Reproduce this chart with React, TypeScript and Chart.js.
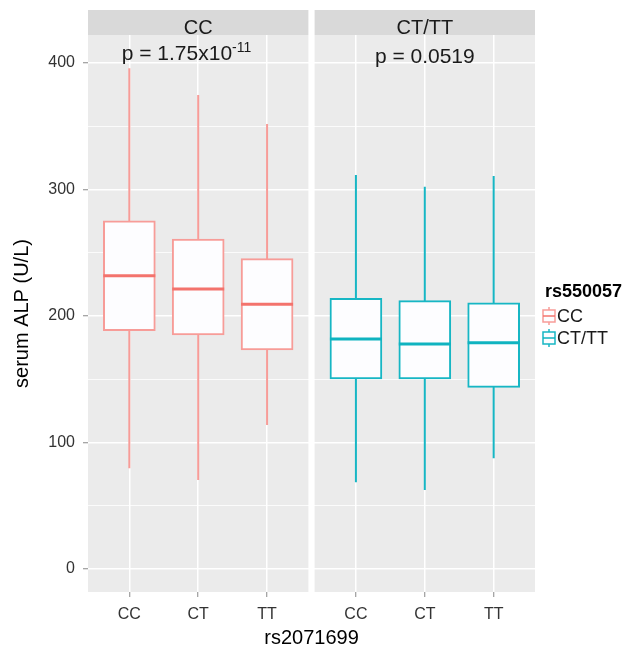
import React, { useEffect, useRef } from 'react';
import { Chart, registerables } from 'chart.js';

Chart.register(...registerables);

const FONT = '"Liberation Sans", Arial, Helvetica, sans-serif';

// facets (rs550057) and x categories (rs2071699)
const panels = ['CC', 'CT/TT'];
const genotypes = ['CC', 'CT', 'TT'];
const yMajorTicks = [0, 100, 200, 300, 400];
const yMinorTicks = [50, 150, 250, 350];

// p-value annotations
const pLabels = ['p = 1.75x10', 'p = 0.0519'];
const pExponents = ['-11', ''];
const pLabelX = [1.83, 2];
const pLabelY = [402.4, 400.2];

// box statistics, rs550057 = CC panel
const ccMin = [79.6, 70.4, 113.8];
const ccQ1 = [188.4, 185.0, 173.1];
const ccMed = [231.9, 221.3, 209.2];
const ccQ3 = [275.3, 260.9, 245.3];
const ccMax = [395.8, 374.7, 351.8];

// box statistics, rs550057 = CT/TT panel
const cttMin = [68.5, 62.5, 87.5];
const cttQ1 = [150.2, 150.2, 143.6];
const cttMed = [181.8, 177.9, 178.9];
const cttQ3 = [214.0, 212.1, 210.5];
const cttMax = [311.5, 302.2, 310.7];

const PANEL_STEP = 3.29; // 3.2 units of panel + gap
const X_MIN = 0.4;
const X_MAX = 3.6 + PANEL_STEP;
const Y_MIN = -18.18;
const Y_MAX = 422.13;

const lineColors = ['#F79C98', '#17B6C4'];
const medianColors = ['#F3736D', '#0FB3C0'];
const boxFill = '#FDFDFF';

const xPos = (p: number, i: number) => p * PANEL_STEP + i + 1;

const stats = [
  { min: ccMin, q1: ccQ1, med: ccMed, q3: ccQ3, max: ccMax },
  { min: cttMin, q1: cttQ1, med: cttMed, q3: cttQ3, max: cttMax },
];

const tickValues: number[] = [];
const tickLabels: string[] = [];
panels.forEach((_, p) =>
  genotypes.forEach((g, i) => {
    tickValues.push(xPos(p, i));
    tickLabels.push(g);
  })
);

const BOX_W = 52;

const facetPlugin = {
  id: 'facets',
  beforeDraw(chart: any) {
    const { ctx, chartArea, scales } = chart;
    const x = scales.x;
    ctx.save();
    ctx.fillStyle = '#FFFFFF';
    ctx.fillRect(0, 0, chart.width, chart.height);
    panels.forEach((name, p) => {
      const l = x.getPixelForValue(X_MIN + p * PANEL_STEP);
      const r = x.getPixelForValue(3.6 + p * PANEL_STEP);
      ctx.fillStyle = '#EBEBEB';
      ctx.fillRect(l, chartArea.top, r - l, chartArea.bottom - chartArea.top);
      ctx.fillStyle = '#D9D9D9';
      ctx.fillRect(l, chartArea.top - 25, r - l, 25);
      ctx.fillStyle = '#1A1A1A';
      ctx.font = '20px ' + FONT;
      ctx.textAlign = 'center';
      ctx.textBaseline = 'alphabetic';
      ctx.fillText(name, (l + r) / 2, chartArea.top - 1);
    });
    ctx.restore();
  },
  beforeDatasetsDraw(chart: any) {
    const { ctx, scales } = chart;
    const { x, y } = scales;
    ctx.save();
    stats.forEach((s, p) => {
      ctx.strokeStyle = lineColors[p];
      ctx.lineWidth = 2;
      genotypes.forEach((_, i) => {
        const px = x.getPixelForValue(xPos(p, i));
        ctx.beginPath();
        ctx.moveTo(px, y.getPixelForValue(s.min[i]));
        ctx.lineTo(px, y.getPixelForValue(s.max[i]));
        ctx.stroke();
      });
    });
    ctx.restore();
  },
  afterDatasetsDraw(chart: any) {
    const { ctx, scales } = chart;
    const { x, y } = scales;
    ctx.save();
    stats.forEach((s, p) => {
      ctx.strokeStyle = medianColors[p];
      ctx.lineWidth = 3;
      genotypes.forEach((_, i) => {
        const px = x.getPixelForValue(xPos(p, i));
        const py = y.getPixelForValue(s.med[i]);
        ctx.beginPath();
        ctx.moveTo(px - BOX_W / 2, py);
        ctx.lineTo(px + BOX_W / 2, py);
        ctx.stroke();
      });
    });
    ctx.restore();
  },
  afterDraw(chart: any) {
    const { ctx, chartArea, scales } = chart;
    const { x, y } = scales;
    ctx.save();
    ctx.fillStyle = '#1A1A1A';
    ctx.textBaseline = 'alphabetic';
    ctx.textAlign = 'left';
    pLabels.forEach((t, p) => {
      const cx = x.getPixelForValue(p * PANEL_STEP + pLabelX[p]);
      ctx.font = '21px ' + FONT;
      const w1 = ctx.measureText(t).width;
      ctx.font = '14px ' + FONT;
      const w2 = pExponents[p] ? ctx.measureText(pExponents[p]).width : 0;
      const left = cx - (w1 + w2) / 2;
      const base = y.getPixelForValue(pLabelY[p]);
      ctx.font = '21px ' + FONT;
      ctx.fillText(t, left, base);
      if (pExponents[p]) {
        ctx.font = '14px ' + FONT;
        ctx.fillText(pExponents[p], left + w1, base - 8);
      }
    });

    // legend
    const lx = chartArea.right + 10;
    ctx.fillStyle = '#000';
    ctx.font = 'bold 18px ' + FONT;
    ctx.fillText('rs550057', lx, 297);
    panels.forEach((name, p) => {
      const cy = 316 + p * 22;
      const kx = lx - 2;
      ctx.strokeStyle = lineColors[p];
      ctx.lineWidth = 1.5;
      ctx.beginPath();
      ctx.moveTo(kx + 6, cy - 9);
      ctx.lineTo(kx + 6, cy + 9);
      ctx.stroke();
      ctx.fillStyle = boxFill;
      ctx.fillRect(kx, cy - 6, 12, 12);
      ctx.strokeRect(kx, cy - 6, 12, 12);
      ctx.strokeStyle = medianColors[p];
      ctx.beginPath();
      ctx.moveTo(kx, cy);
      ctx.lineTo(kx + 12, cy);
      ctx.stroke();
      ctx.fillStyle = '#1A1A1A';
      ctx.font = '18px ' + FONT;
      ctx.textBaseline = 'middle';
      ctx.fillText(name, kx + 14, cy + 1);
      ctx.textBaseline = 'alphabetic';
    });
    ctx.restore();
  },
};

export default function App() {
  const ref = useRef<HTMLCanvasElement | null>(null);

  useEffect(() => {
    if (!ref.current) return;
    Chart.defaults.font.family = FONT;
    const datasets = stats.map((s, p) => ({
      label: panels[p],
      data: genotypes.map((_, i) => ({ x: xPos(p, i), y: [s.q1[i], s.q3[i]] })),
      backgroundColor: boxFill,
      borderColor: lineColors[p],
      borderWidth: 2,
      borderSkipped: false,
      barThickness: BOX_W,
      grouped: false,
    }));

    const chart = new Chart(ref.current, {
      type: 'bar',
      data: { datasets } as any,
      plugins: [facetPlugin],
      options: {
        animation: false,
        responsive: false,
        devicePixelRatio: 1,
        layout: { padding: { top: 35, right: 100, left: 0, bottom: 0 } },
        plugins: {
          legend: { display: false },
          tooltip: { enabled: false },
        },
        scales: {
          x: {
            type: 'linear',
            min: X_MIN,
            max: X_MAX,
            offset: false,
            afterBuildTicks: (scale: any) => {
              scale.ticks = tickValues.map((v) => ({ value: v }));
            },
            afterFit: (scale: any) => {
              scale.height = 58;
            },
            ticks: {
              autoSkip: false,
              maxRotation: 0,
              minRotation: 0,
              padding: 8,
              color: '#333333',
              font: { size: 16 },
              callback: (_v: any, i: number) => tickLabels[i],
            },
            grid: {
              color: '#FFFFFF',
              lineWidth: 1.5,
              tickColor: '#888888',
              tickLength: 5,
              tickWidth: 1,
              offset: false,
            },
            border: { display: false },
            title: {
              display: true,
              text: 'rs2071699',
              color: '#000000',
              font: { size: 20 },
              padding: { top: 0, bottom: 0 },
            },
          },
          y: {
            type: 'linear',
            min: Y_MIN,
            max: Y_MAX,
            afterBuildTicks: (scale: any) => {
              scale.ticks = [...yMajorTicks, ...yMinorTicks]
                .sort((a, b) => a - b)
                .map((v) => ({ value: v }));
            },
            afterFit: (scale: any) => {
              scale.width = 88;
            },
            ticks: {
              padding: 8,
              color: '#333333',
              font: { size: 16 },
              callback: (v: any) => (yMajorTicks.includes(v) ? String(v) : ''),
            },
            grid: {
              color: '#FFFFFF',
              lineWidth: (ctx: any) => (ctx.tick && yMajorTicks.includes(ctx.tick.value) ? 1.5 : 0.8),
              tickColor: (ctx: any) =>
                ctx.tick && yMajorTicks.includes(ctx.tick.value) ? '#888888' : 'rgba(0,0,0,0)',
              tickLength: 5,
              tickWidth: 1,
            },
            border: { display: false },
            title: {
              display: true,
              text: 'serum ALP (U/L)',
              color: '#000000',
              font: { size: 20 },
              padding: { top: 10, bottom: 0 },
            },
          },
        },
      } as any,
    });
    return () => chart.destroy();
  }, []);

  return (
    <div style={{ position: 'absolute', left: 0, top: 0, width: 635, height: 650 }}>
      <canvas ref={ref} width={635} height={650} style={{ width: 635, height: 650 }} />
    </div>
  );
}
